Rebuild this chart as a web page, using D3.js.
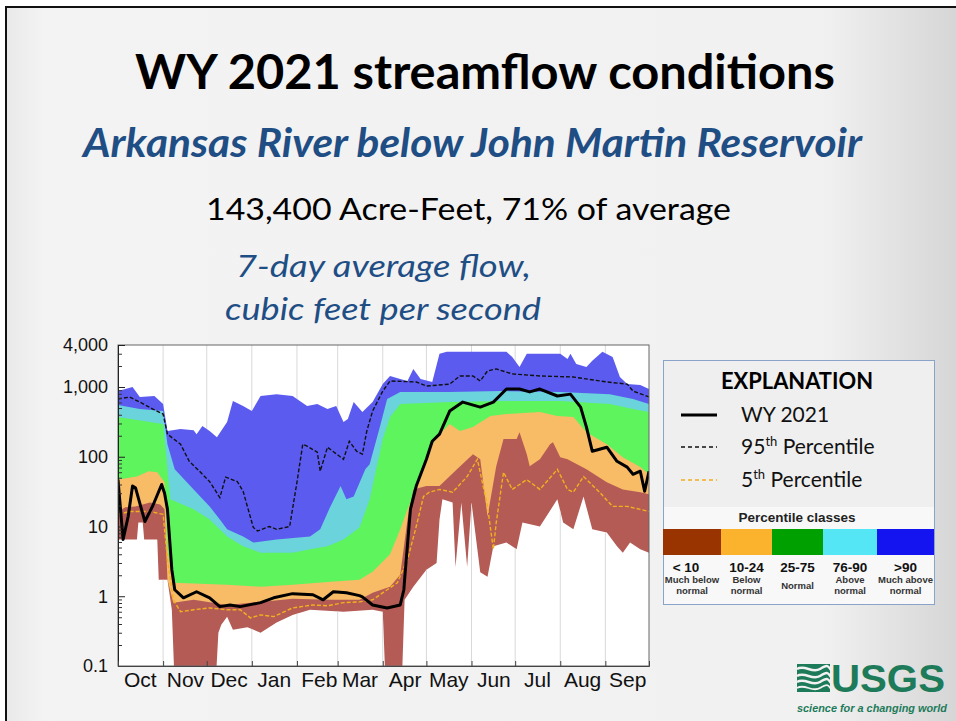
<!DOCTYPE html>
<html>
<head>
<meta charset="utf-8">
<script src="https://cdn.jsdelivr.net/npm/d3@7"></script>
<style>
  html, body { margin: 0; padding: 0; background: #fff; }
  svg { display: block; }
</style>
</head>
<body>
<div id="chart"></div>
<script>
// Day of water year (0 = Oct 1, 2020) and flow in cubic feet per second
const maxFlow = [[0,875],[10,1000],[15,718],[25,743],[31,569],[34,233],[43,249],[52,240],[54,211],[58,275],[63,233],[68,191],[75,314],[79,629],[86,533],[92,452],[98,743],[109,790],[120,743],[130,533],[137,569],[144,482],[150,533],[155,314],[158,347],[162,608],[168,437],[175,608],[182,1100],[187,1440],[194,1300],[199,1220],[203,1815],[208,1300],[216,1180],[221,2985],[226,3190],[267,3190],[271,2700],[276,1940],[281,2985],[304,2985],[309,2530],[311,2985],[315,2140],[322,1940],[326,2370],[333,3190],[340,2700],[345,1390],[350,1100],[359,1070],[365,935]];
const p90 = [[0,550],[15,482],[31,452],[34,151],[39,66],[52,34],[63,19.4],[70,12.6],[75,9.1],[86,7.2],[93,5.9],[109,6.5],[132,7.2],[139,9.1],[146,19.4],[153,38],[157,24.5],[162,27],[170,66],[173,78],[180,266],[185,672],[194,850],[228,850],[263,875],[304,850],[338,790],[354,672],[365,569]];
const p75 = [[0,370],[22,314],[31,294],[36,24.5],[52,17.6],[63,12.6],[75,7.2],[86,5.2],[98,4.2],[120,4.2],[132,4.7],[144,5.2],[155,6.5],[166,9.7],[173,24.5],[182,179],[187,370],[194,569],[228,608],[263,629],[304,629],[338,569],[354,482],[365,437]];
const p25 = [[0,47],[13,52],[21,62],[27,60],[32,43],[34,4.7],[38,1.56],[75,1.46],[98,1.37],[120,1.46],[144,1.6],[166,1.73],[175,2.25],[187,4.0],[194,9.1],[199,17.6],[205,34],[212,102],[216,151],[221,211],[228,294],[235,233],[244,266],[256,383],[267,409],[290,437],[302,383],[313,370],[322,225],[336,151],[347,98],[359,71],[365,56]];
const p10 = [[0,16.4],[5,18.8],[12,19.4],[22,22],[29,20.7],[32,17.6],[34,1.73],[38,0.81],[52,0.89],[75,0.75],[98,0.83],[120,0.92],[144,0.89],[166,0.89],[175,1.12],[187,1.37],[194,2.04],[199,12.6],[203,34],[212,38],[221,38],[233,66],[244,109],[249,92],[254,13.9],[260,73],[265,179],[274,179],[276,225],[281,109],[283,73],[290,92],[297,151],[299,162],[304,98],[309,92],[322,66],[336,43],[347,34],[359,31],[365,29]];
const minFlow = [[0,6.5],[13,6.5],[14,11.4],[17,11.4],[18,6.5],[27,6.5],[28,1.73],[34,1.73],[37,0.64],[39,0.05],[67,0.05],[69,0.30],[71,0.39],[75,0.51],[79,0.33],[89,0.36],[98,0.30],[109,0.42],[120,0.54],[132,0.64],[155,0.60],[175,0.64],[182,0.60],[184,0.05],[195,0.05],[197,0.89],[203,1.37],[212,2.4],[219,3.0],[221,12.6],[223,24.5],[230,22],[232,2.65],[236,22],[240,2.65],[243,22],[249,2.2],[254,1.9],[258,5.2],[267,5.9],[274,4.7],[278,11.4],[290,10],[302,24.5],[306,11.4],[313,9.1],[320,27],[326,9.1],[336,8.2],[343,5.2],[347,4.2],[352,5.9],[359,4.7],[365,4.2]];
const p95 = [[0,672],[8,718],[15,608],[24,482],[31,409],[34,211],[43,151],[49,86],[56,62],[63,44],[70,26],[74,51],[82,44],[86,32],[93,9.7],[96,8.6],[104,10],[109,9.1],[118,10],[123,43],[127,151],[130,142],[137,116],[139,62],[144,137],[155,92],[159,167],[164,120],[168,109],[171,233],[175,452],[182,875],[187,1220],[205,1180],[212,1030],[228,1100],[235,1440],[244,1440],[249,1220],[254,1700],[260,1815],[271,1540],[290,1440],[313,1390],[336,1180],[350,1100],[354,875],[365,720]];
const p05 = [[0,14.9],[8,16.4],[22,16.4],[31,14.9],[34,3.35],[38,0.89],[43,0.60],[52,0.64],[63,0.68],[75,0.64],[84,0.64],[91,0.49],[98,0.54],[107,0.51],[120,0.68],[134,0.75],[144,0.73],[155,0.81],[166,0.83],[175,0.89],[192,1.56],[199,3.35],[205,10],[210,27],[214,31],[221,34],[230,31],[240,52],[247,92],[254,19.4],[258,4.7],[260,11.4],[265,60],[271,34],[281,47],[290,34],[302,66],[309,34],[313,31],[320,52],[331,31],[340,19.4],[350,19.4],[359,17.6],[365,16.4]];
const wy2021 = [[0,47],[3.5,6.5],[7,14],[10,38],[12,36],[18.5,11.8],[24,20],[30,40],[32,30],[34,17.6],[37,2.4],[39,1.24],[45,0.95],[54,1.16],[63,0.95],[70,0.71],[77,0.75],[84,0.71],[98,0.81],[107,0.95],[120,1.09],[134,1.05],[141,0.89],[148,1.16],[157,1.12],[166,1.02],[168,0.98],[175,0.75],[185,0.68],[194,0.75],[196.5,1.24],[197,1.73],[201,17.6],[205,38],[212,92],[216,167],[221,211],[228,452],[237,608],[249,515],[258,608],[267,935],[276,935],[283,850],[290,935],[302,743],[311,790],[318,515],[322,266],[326,120],[336,137],[343,86],[350,71],[354,56],[359,62],[362,32],[365,62]];

const yTicks = [0.1, 1, 10, 100, 1000, 4000];
const classLabels = ["< 10", "10-24", "25-75", "76-90", ">90"];
const classNotes = [["Much below", "normal"], ["Below", "normal"], ["Normal"], ["Above", "normal"], ["Much above", "normal"]];

// Configuration
const width = 956, height = 721;
const plot = { left: 118, right: 649, top: 345, bottom: 666 };
const bandColors = ["#5b5bf0", "#6ad3dc", "#5ef45e", "#f8bb66", "#b45b56", "#ffffff"];
const classColors = ["#993300", "#fbb32e", "#00a000", "#55e6f5", "#1414f0"];
const blueText = "#1f4e85";
const usgsGreen = "#1d7b5a";

const start = new Date(2020, 9, 1);
const toDate = d => d3.timeDay.offset(start, Math.floor(d[0]));

const svg = d3.select("#chart").append("svg")
  .attr("width", width).attr("height", height)
  .attr("viewBox", `0 0 ${width} ${height}`);

const defs = svg.append("defs");
const bg = defs.append("linearGradient").attr("id", "bg").attr("x1", 0).attr("x2", 1).attr("y1", 0).attr("y2", 0);
bg.append("stop").attr("offset", "0%").attr("stop-color", "#e9e9e9");
bg.append("stop").attr("offset", "4%").attr("stop-color", "#f3f3f3");
bg.append("stop").attr("offset", "86%").attr("stop-color", "#f1f1f1");
bg.append("stop").attr("offset", "100%").attr("stop-color", "#d6d6d6");

// Slide background and frame
svg.append("rect").attr("x", 6).attr("y", 7).attr("width", width - 6).attr("height", height - 7).attr("fill", "url(#bg)");
svg.append("path").attr("d", `M6,${height} V7 H${width}`).attr("fill", "none").attr("stroke", "#111").attr("stroke-width", 2);

// Headings
const heading = (txt, x, y, size, len, opts) => {
  svg.append("text").attr("x", x).attr("y", y).text(txt)
    .attr("font-family", "Lato, 'Open Sans', sans-serif")
    .attr("font-size", size)
    .attr("font-weight", opts.weight || "normal")
    .attr("font-style", opts.style || "normal")
    .attr("fill", opts.fill || "#000")
    .attr("textLength", len).attr("lengthAdjust", "spacingAndGlyphs");
};
heading("WY 2021 streamflow conditions", 135, 89, 47, 700, { weight: "bold" });
heading("Arkansas River below John Martin Reservoir", 83, 157, 41, 779, { weight: "bold", style: "italic", fill: blueText });
heading("143,400 Acre-Feet, 71% of average", 206, 220, 31, 525, {});
heading("7-day average flow,", 236, 277, 31, 295, { style: "italic", fill: blueText });
heading("cubic feet per second", 225, 320, 31, 316, { style: "italic", fill: blueText });

// Scales
const x = d3.scaleTime().domain([start, new Date(2021, 9, 1)]).range([plot.left, plot.right]);
const y = d3.scaleLog().domain([0.1, 4000]).range([plot.bottom, plot.top]);

defs.append("clipPath").attr("id", "plotClip").append("rect")
  .attr("x", plot.left).attr("y", plot.top)
  .attr("width", plot.right - plot.left).attr("height", plot.bottom - plot.top);

const area = d3.area().x(d => x(toDate(d)) + (d[0] % 1) * 1.455).y0(plot.bottom + 30).y1(d => y(d[1]));
const line = d3.line().x(d => x(toDate(d)) + (d[0] % 1) * 1.455).y(d => y(d[1]));

defs.append("clipPath").attr("id", "minClip").append("path").attr("d", area(minFlow));

const g = svg.append("g").attr("clip-path", "url(#plotClip)");
g.append("rect").attr("x", plot.left).attr("y", plot.top)
  .attr("width", plot.right - plot.left).attr("height", plot.bottom - plot.top).attr("fill", "#fff");

const monthStarts = d3.timeMonth.range(new Date(2020, 10, 1), new Date(2021, 9, 1));
const grid = sel => sel.selectAll("line").data(monthStarts).join("line")
  .attr("x1", d => x(d)).attr("x2", d => x(d))
  .attr("y1", plot.top).attr("y2", plot.bottom)
  .attr("stroke", "#d9d9d9").attr("stroke-width", 1);
g.append("g").call(grid);

// Percentile bands, painted top-down
[maxFlow, p90, p75, p25, p10, minFlow].forEach((s, i) => {
  g.append("path").attr("d", area(s)).attr("fill", bandColors[i]);
});
g.append("g").attr("clip-path", "url(#minClip)").call(grid);

g.append("path").attr("d", line(p05)).attr("fill", "none")
  .attr("stroke", "#f2b01e").attr("stroke-width", 1.4).attr("stroke-dasharray", "4 2");
g.append("path").attr("d", line(p95)).attr("fill", "none")
  .attr("stroke", "#111").attr("stroke-width", 1.4).attr("stroke-dasharray", "4 2");
g.append("path").attr("d", line(wy2021)).attr("fill", "none")
  .attr("stroke", "#000").attr("stroke-width", 3).attr("stroke-linejoin", "round");

// Frame
svg.append("rect").attr("x", plot.left).attr("y", plot.top)
  .attr("width", plot.right - plot.left).attr("height", plot.bottom - plot.top)
  .attr("fill", "none").attr("stroke", "#666").attr("stroke-width", 1);

// Axes
const minor = [];
[0.1, 1, 10, 100, 1000].forEach(dec => d3.range(2, 10).forEach(k => { if (dec * k < 4000) minor.push(dec * k); }));
svg.append("g").attr("transform", `translate(${plot.left},0)`)
  .call(d3.axisLeft(y).tickValues(minor).tickSize(-4).tickFormat(""))
  .call(a => a.select(".domain").remove())
  .call(a => a.selectAll("line").attr("stroke", "#333"));

const yAxis = svg.append("g").attr("transform", `translate(${plot.left},0)`)
  .call(d3.axisLeft(y).tickValues(yTicks).tickSize(-7).tickPadding(10).tickFormat(d3.format(",")));
yAxis.select(".domain").attr("stroke", "#222");
yAxis.selectAll("line").attr("stroke", "#222");
yAxis.selectAll("text").attr("font-family", "'Liberation Sans', Arial, sans-serif")
  .attr("font-size", 18).attr("fill", "#111");

const xAxis = svg.append("g").attr("transform", `translate(0,${plot.bottom})`)
  .call(d3.axisBottom(x).tickValues(monthStarts).tickSize(-5).tickFormat(""));
xAxis.select(".domain").attr("stroke", "#444");
xAxis.selectAll("line").attr("stroke", "#444");

const monthMids = d3.timeMonth.range(start, new Date(2021, 9, 1)).map(m => new Date(m.getFullYear(), m.getMonth(), 16));
svg.append("g").attr("transform", `translate(0,${plot.bottom})`)
  .call(d3.axisBottom(x).tickValues(monthMids).tickSize(0).tickPadding(6).tickFormat(d3.timeFormat("%b")))
  .call(a => a.select(".domain").remove())
  .call(a => a.selectAll("text").attr("font-family", "'Liberation Sans', Arial, sans-serif")
    .attr("font-size", 21).attr("fill", "#111"));

// Explanation box
const lg = svg.append("g");
lg.append("rect").attr("x", 663.5).attr("y", 360.5).attr("width", 271).attr("height", 244)
  .attr("fill", "#efefef").attr("stroke", "#8aa3c8").attr("stroke-width", 1);
lg.append("rect").attr("x", 664).attr("y", 507).attr("width", 270).attr("height", 97).attr("fill", "#f8f8f8");

lg.append("text").attr("x", 797).attr("y", 389).attr("text-anchor", "middle")
  .attr("font-family", "Lato, sans-serif").attr("font-weight", "bold").attr("font-size", 22)
  .attr("textLength", 152).attr("lengthAdjust", "spacingAndGlyphs").text("EXPLANATION");

const keyRows = [
  { y: 415, dash: null, color: "#000", w: 3, label: ["WY 2021"] },
  { y: 447, dash: "4 3", color: "#111", w: 1.3, label: ["95", "th", " Percentile"] },
  { y: 480, dash: "4 3", color: "#f2b01e", w: 1.3, label: ["5", "th", " Percentile"] }
];
keyRows.forEach(r => {
  lg.append("line").attr("x1", 681).attr("x2", 717).attr("y1", r.y).attr("y2", r.y)
    .attr("stroke", r.color).attr("stroke-width", r.w).attr("stroke-dasharray", r.dash);
  const t = lg.append("text").attr("x", 741).attr("y", r.y + 7)
    .attr("font-family", "Lato, sans-serif").attr("font-size", 21).attr("fill", "#111");
  t.append("tspan").text(r.label[0]);
  if (r.label.length > 1) {
    t.append("tspan").attr("font-size", 13).attr("dy", -8).text(r.label[1]);
    t.append("tspan").attr("dy", 8).text(r.label[2]);
  }
});

lg.append("text").attr("x", 797).attr("y", 522).attr("text-anchor", "middle")
  .attr("font-family", "'Liberation Sans', Arial, sans-serif").attr("font-weight", "bold")
  .attr("font-size", 13.5).attr("fill", "#222").text("Percentile classes");

const classEdges = [663, 721, 772, 823, 877, 934];
const cx = i => (classEdges[i] + classEdges[i + 1]) / 2;
lg.selectAll(".cls").data(classColors).join("rect")
  .attr("x", (d, i) => classEdges[i]).attr("y", 529)
  .attr("width", (d, i) => classEdges[i + 1] - classEdges[i]).attr("height", 26)
  .attr("fill", d => d);
lg.selectAll(".clsLab").data(classLabels).join("text")
  .attr("x", (d, i) => cx(i) - (i === 0 ? 6 : 0)).attr("y", 572).attr("text-anchor", "middle")
  .attr("font-family", "'Liberation Sans', Arial, sans-serif").attr("font-weight", "bold")
  .attr("font-size", 13.5).attr("fill", "#111").text(d => d);
classNotes.forEach((lines, i) => {
  lines.forEach((txt, j) => {
    lg.append("text").attr("x", cx(i)).attr("y", lines.length === 1 ? 589 : 583 + j * 11)
      .attr("text-anchor", "middle")
      .attr("font-family", "'Liberation Sans', Arial, sans-serif").attr("font-weight", "bold")
      .attr("font-size", 9.5).attr("fill", "#333").text(txt);
  });
});

// USGS logo
const logo = svg.append("g");
logo.append("rect").attr("x", 797).attr("y", 664).attr("width", 33).attr("height", 28).attr("fill", usgsGreen);
[669, 676, 682, 688].forEach((wy, i) => {
  logo.append("path")
    .attr("d", `M797,${wy} C805,${wy - 5} 812,${wy + 5} 820,${wy} S828,${wy - 3} 831,${wy + 1}`)
    .attr("fill", "none").attr("stroke", "#f2f2f2").attr("stroke-width", i === 3 ? 1.8 : 2.4);
});
logo.append("text").attr("x", 831).attr("y", 692)
  .attr("font-family", "'Liberation Sans Narrow', 'Liberation Sans', Arial, sans-serif")
  .attr("font-weight", "bold").attr("font-size", 38).attr("fill", usgsGreen)
  .attr("textLength", 114).attr("lengthAdjust", "spacingAndGlyphs").text("USGS");
logo.append("text").attr("x", 797).attr("y", 712)
  .attr("font-family", "'Liberation Sans', Arial, sans-serif")
  .attr("font-weight", "bold").attr("font-style", "italic").attr("font-size", 10.5).attr("fill", usgsGreen)
  .attr("textLength", 150).attr("lengthAdjust", "spacingAndGlyphs").text("science for a changing world");
</script>
</body>
</html>
